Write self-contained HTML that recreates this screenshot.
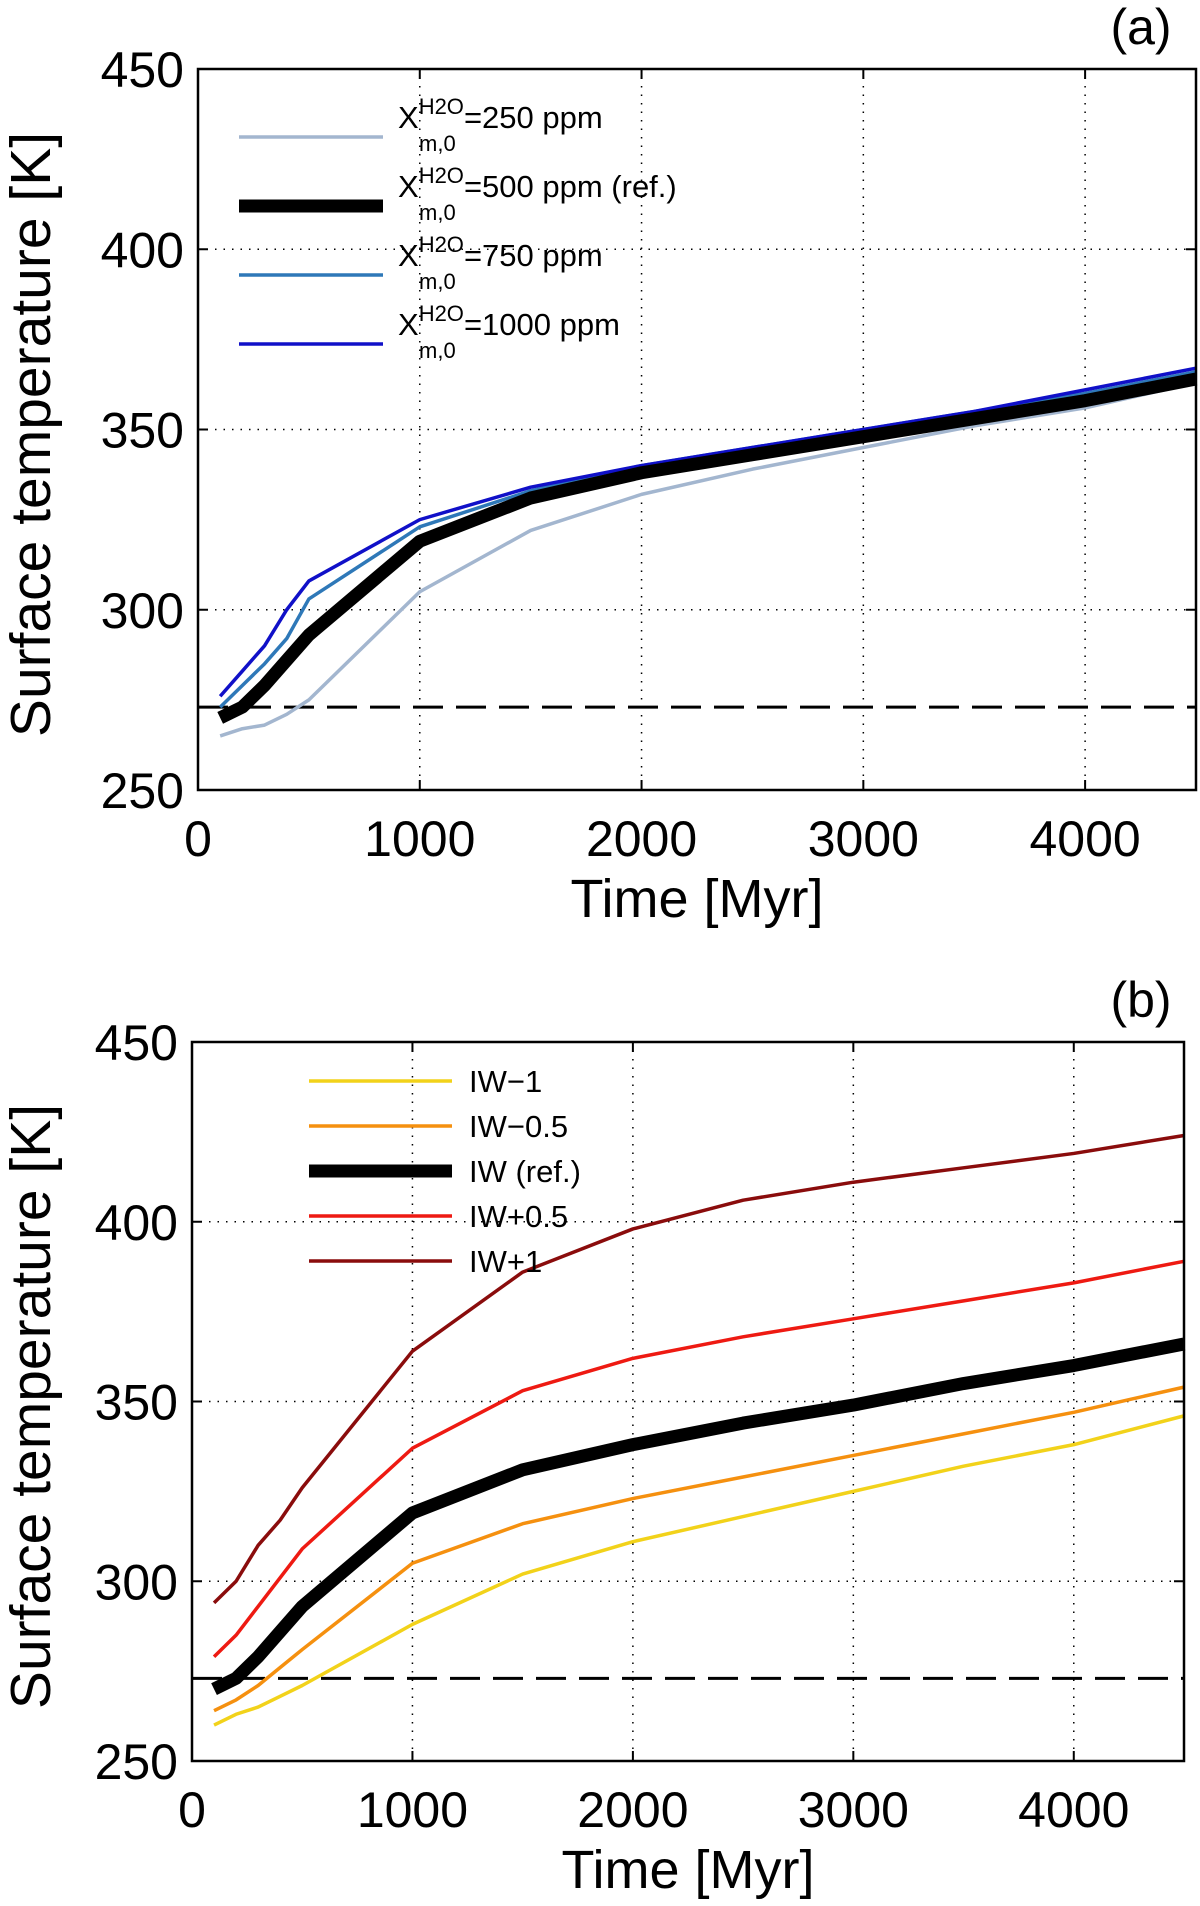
<!DOCTYPE html>
<html><head><meta charset="utf-8"><style>
body{margin:0;background:#fff;width:1200px;height:1906px;overflow:hidden}
svg{display:block;font-family:"Liberation Sans",sans-serif}
</style></head><body>
<svg id="fig" width="1200" height="1906"></svg>
<script>
const times=[100,200,300,400,500,1000,1500,2000,2500,3000,3500,4000,4500];
const xTicks=[0,1000,2000,3000,4000];
const yTicks=[250,300,350,400,450];
const freezing=273;
const a250=[265,267,268,271,275,305,322,332,339,345,351,356,363];
const a500=[270,273,279,286,293,319,331,338,343,348,353,358,364];
const a750=[273,279,285,292,303,323,333,340,345,350,355,360,366];
const a1000=[276,283,290,300,308,325,334,340,345,350,355,361,367];
const bm1=[260,263,265,268,271,288,302,311,318,325,332,338,346];
const bm05=[264,267,271,276,281,305,316,323,329,335,341,347,354];
const bref=[270,273,279,286,293,319,331,338,344,349,355,360,366];
const bp05=[279,285,293,301,309,337,353,362,368,373,378,383,389];
const bp1=[294,300,310,317,326,364,386,398,406,411,415,419,424];
const bLabels=['IW\u22121','IW\u22120.5','IW (ref.)','IW+0.5','IW+1'];

const NS='http://www.w3.org/2000/svg';
const svg=document.getElementById('fig');
function mk(tag,attrs,parent){const e=document.createElementNS(NS,tag);for(const k in attrs)e.setAttribute(k,attrs[k]);(parent||svg).appendChild(e);return e;}

function panel(P){
  const g=mk('g',{});
  
  
  const sx=v=>P.x0+(v/4500)*(P.x1-P.x0);
  const sy=v=>P.y1-(v-250)/200*(P.y1-P.y0);
  xTicks.forEach(t=>{if(t>0){const l=mk('line',{x1:sx(t),x2:sx(t),y1:P.y0,y2:P.y1,stroke:'#000','stroke-width':1.5,'stroke-dasharray':'1.5 7'},g);}});
  yTicks.forEach(t=>{if(t>250&&t<450){const l=mk('line',{x1:P.x0,x2:P.x1,y1:sy(t),y2:sy(t),stroke:'#000','stroke-width':1.5,'stroke-dasharray':'1.5 7'},g);}});
  const fl=mk('line',{x1:P.x0,x2:P.x1,y1:sy(freezing),y2:sy(freezing),stroke:'#000','stroke-width':3,'stroke-dasharray':'30 13'},g);
  
  
  P.series.forEach(s=>{
    const pts=times.map((t,i)=>sx(t)+','+sy(s.v[i])).join(' ');
    const pl=mk('polyline',{points:pts,fill:'none',stroke:s.c,'stroke-width':s.w,'stroke-linejoin':'round'},g);
    
    
  });
  const r=mk('rect',{x:P.x0,y:P.y0,width:P.x1-P.x0,height:P.y1-P.y0,fill:'none',stroke:'#000','stroke-width':2.5},g);
  
  
  xTicks.forEach(t=>{
    mk('line',{x1:sx(t),x2:sx(t),y1:P.y1,y2:P.y1-10,stroke:'#000','stroke-width':2},g);
    mk('line',{x1:sx(t),x2:sx(t),y1:P.y0,y2:P.y0+10,stroke:'#000','stroke-width':2},g);
    const tx=mk('text',{x:sx(t),y:P.y1+66,'font-size':50,'text-anchor':'middle'},g);
    tx.textContent=t;
    
    
  });
  yTicks.forEach(t=>{
    mk('line',{x1:P.x0,x2:P.x0+10,y1:sy(t),y2:sy(t),stroke:'#000','stroke-width':2},g);
    mk('line',{x1:P.x1,x2:P.x1-10,y1:sy(t),y2:sy(t),stroke:'#000','stroke-width':2},g);
    const ty=mk('text',{x:P.x0-14,y:sy(t)+18,'font-size':50,'text-anchor':'end'},g);
    ty.textContent=t;
    
    
  });
  const xt=mk('text',{x:(P.x0+P.x1)/2,y:P.y1+127,'font-size':54,'text-anchor':'middle'},g);
  xt.textContent='Time [Myr]';
  
  
  const yc=(P.y0+P.y1)/2+5;
  const yt=mk('text',{x:0,y:0,'font-size':57,'text-anchor':'middle',transform:'translate(50,'+yc+') rotate(-90)'},g);
  yt.textContent='Surface temperature [K]';
  
  
  const pl=mk('text',{x:1141,y:P.y0-25,'font-size':50,'text-anchor':'middle'},g);
  pl.textContent=P.label;
  
  
  return g;
}

const gA=panel({id:'a',label:'(a)',x0:198,x1:1196,y0:69,y1:790,series:[
 {n:'250ppm',v:a250,c:'#a3b6cf',w:3.5},
 {n:'750ppm',v:a750,c:'#2e78b8',w:3.5},
 {n:'1000ppm',v:a1000,c:'#1010c8',w:3.5},
 {n:'500ppm-ref',v:a500,c:'#000',w:13}]});
const gB=panel({id:'b',label:'(b)',x0:192,x1:1184,y0:1042,y1:1761,series:[
 {n:'iw-1',v:bm1,c:'#f2d21a',w:3.5},
 {n:'iw-0.5',v:bm05,c:'#f5900f',w:3.5},
 {n:'iw+0.5',v:bp05,c:'#ee1a12',w:3.5},
 {n:'iw+1',v:bp1,c:'#8a0c0c',w:3.5},
 {n:'iw-ref',v:bref,c:'#000',w:13}]});

const legA=mk('g',{});


const aCols=['#a3b6cf','#000','#2e78b8','#1010c8'];
const aW=[3.5,13,3.5,3.5];
const aTxt=['=250 ppm','=500 ppm (ref.)','=750 ppm','=1000 ppm'];
aTxt.forEach((t,i)=>{
  const y=137+i*69;
  mk('line',{x1:239,x2:383,y1:y,y2:y,stroke:aCols[i],'stroke-width':aW[i]},legA);
  const tx=mk('text',{x:398,y:y-9,'font-size':31},legA);
  
  
  const x=mk('tspan',{},tx);x.textContent='X';
  const sup=mk('tspan',{dy:-14,'font-size':22},tx);sup.textContent='H2O';
  const rest=mk('tspan',{dy:14},tx);rest.textContent=t;
  const sub=mk('text',{x:419,y:y+14,'font-size':22},legA);sub.textContent='m,0';
});
const legB=mk('g',{});


const bCols=['#f2d21a','#f5900f','#000','#ee1a12','#8a0c0c'];
const bW=[3.5,3.5,13,3.5,3.5];
bLabels.forEach((t,i)=>{
  const y=1081+i*45;
  mk('line',{x1:309,x2:452,y1:y,y2:y,stroke:bCols[i],'stroke-width':bW[i]},legB);
  const tx=mk('text',{x:469,y:y+11,'font-size':31},legB);
  tx.textContent=t;
  
  
});
</script>
</body></html>
